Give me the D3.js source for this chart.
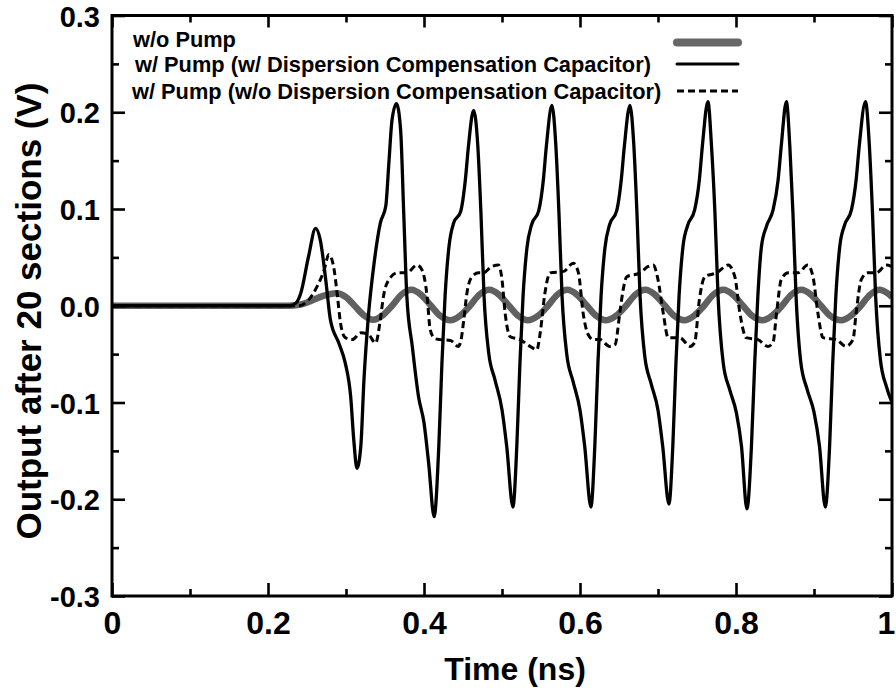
<!DOCTYPE html>
<html>
<head>
<meta charset="utf-8">
<script src="https://cdn.jsdelivr.net/npm/d3@7"></script>
<style>
  body { margin: 0; background: #fff; }
  svg text { font-family: "Liberation Sans", Arial, sans-serif; font-weight: bold; fill: #000; }
</style>
</head>
<body>
<svg id="chart" width="896" height="693"></svg>
<script>
// tick values / labels
const xMajor = [0, 0.2, 0.4, 0.6, 0.8, 1];
const xMinor = [0.1, 0.3, 0.5, 0.7, 0.9];
const xTickLabels = ["0", "0.2", "0.4", "0.6", "0.8", "1"];
const yMajor = [-0.3, -0.2, -0.1, 0, 0.1, 0.2, 0.3];
const yMinor = [-0.25, -0.15, -0.05, 0.05, 0.15, 0.25];
const yTickLabels = ["-0.3", "-0.2", "-0.1", "0.0", "0.1", "0.2", "0.3"];

const legendLabels = [
  "w/o Pump",
  "w/ Pump (w/ Dispersion Compensation Capacitor)",
  "w/ Pump (w/o Dispersion Compensation Capacitor)"
];

// w/o pump: [time ns, output V]
const noPump = [
  [0, 0], [0.1, 0], [0.2, 0], [0.225, 0], [0.24, 0.001], [0.255, 0.005], [0.27, 0.01],
  [0.287, 0.013], [0.3, 0.009], [0.311, 0], [0.323, -0.01], [0.335, -0.0145], [0.347, -0.01],
  [0.359, 0], [0.371, 0.0115], [0.384, 0.0165], [0.396, 0.0115], [0.409, 0], [0.421, -0.0105],
  [0.434, -0.015], [0.446, -0.0105], [0.459, 0], [0.471, 0.0115], [0.484, 0.0165], [0.496, 0.0115],
  [0.509, 0], [0.521, -0.0105], [0.533, -0.015], [0.546, -0.0105], [0.559, 0], [0.571, 0.0115],
  [0.584, 0.0165], [0.596, 0.0115], [0.609, 0], [0.621, -0.0105], [0.633, -0.015], [0.646, -0.0105],
  [0.659, 0], [0.671, 0.0115], [0.684, 0.0165], [0.696, 0.0115], [0.709, 0], [0.721, -0.0105],
  [0.734, -0.015], [0.746, -0.0105], [0.759, 0], [0.771, 0.0115], [0.784, 0.0165], [0.796, 0.0115],
  [0.809, 0], [0.821, -0.0105], [0.834, -0.015], [0.846, -0.0105], [0.859, 0], [0.871, 0.0115],
  [0.884, 0.0165], [0.896, 0.0115], [0.909, 0], [0.921, -0.0105], [0.935, -0.015], [0.947, -0.0105],
  [0.96, 0], [0.972, 0.0115], [0.984, 0.0165], [0.994, 0.013], [1.0, 0.009]
];

// w/ pump, w/ dispersion compensation capacitor
const pumpComp = [
  [0, 0], [0.1, 0], [0.2, 0], [0.228, 0], [0.236, 0.003], [0.242, 0.013], [0.252, 0.051],
  [0.261, 0.08], [0.267, 0.068], [0.274, 0.027], [0.28, -0.0145], [0.291, -0.039], [0.299, -0.059],
  [0.306, -0.094], [0.31, -0.139], [0.314, -0.168], [0.319, -0.145], [0.323, -0.077], [0.329, -0.008],
  [0.336, 0.044], [0.344, 0.0855], [0.351, 0.103], [0.355, 0.148], [0.359, 0.192], [0.3647, 0.209],
  [0.37, 0.182], [0.374, 0.096], [0.378, 0.0096], [0.385, -0.042], [0.393, -0.094], [0.4, -0.121],
  [0.406, -0.163], [0.413, -0.218],
  [0.419, -0.145], [0.423, -0.059], [0.427, 0.0096], [0.432, 0.061], [0.438, 0.0855], [0.447, 0.0975],
  [0.453, 0.13], [0.457, 0.165], [0.4636, 0.202], [0.469, 0.165], [0.473, 0.096], [0.477, 0.0096],
  [0.483, -0.049], [0.491, -0.0765], [0.5, -0.1075], [0.506, -0.145], [0.514, -0.208],
  [0.519, -0.145], [0.523, -0.059], [0.527, 0.01], [0.532, 0.06], [0.538, 0.084], [0.547, 0.098],
  [0.553, 0.13], [0.557, 0.166], [0.564, 0.207], [0.569, 0.166], [0.573, 0.096], [0.577, 0.01],
  [0.583, -0.05], [0.591, -0.078], [0.6, -0.108], [0.606, -0.145], [0.614, -0.208],
  [0.619, -0.145], [0.623, -0.059], [0.627, 0.01], [0.632, 0.06], [0.638, 0.084], [0.647, 0.098],
  [0.653, 0.131], [0.657, 0.166], [0.664, 0.207], [0.669, 0.166], [0.673, 0.096], [0.677, 0.01],
  [0.683, -0.052], [0.691, -0.08], [0.7, -0.108], [0.706, -0.145], [0.714, -0.205],
  [0.719, -0.145], [0.723, -0.059], [0.727, 0.01], [0.732, 0.061], [0.738, 0.083], [0.747, 0.099],
  [0.753, 0.13], [0.757, 0.166], [0.764, 0.211], [0.7686, 0.165], [0.773, 0.096], [0.777, 0.01],
  [0.7836, -0.059], [0.792, -0.087], [0.8006, -0.111], [0.807, -0.145], [0.814, -0.21],
  [0.8198, -0.145], [0.824, -0.059], [0.828, 0.01], [0.8326, 0.061], [0.839, 0.082], [0.8475, 0.099],
  [0.854, 0.13], [0.858, 0.165], [0.8646, 0.211], [0.869, 0.165], [0.873, 0.096], [0.877, 0.01],
  [0.883, -0.058], [0.891, -0.086], [0.9, -0.11], [0.907, -0.145], [0.9145, -0.208],
  [0.92, -0.145], [0.924, -0.059], [0.928, 0.01], [0.933, 0.061], [0.939, 0.083], [0.948, 0.099],
  [0.954, 0.13], [0.958, 0.165], [0.966, 0.211], [0.971, 0.165], [0.975, 0.096], [0.979, 0.01],
  [0.985, -0.055], [0.993, -0.084], [1.0, -0.1]
];

// w/ pump, w/o dispersion compensation capacitor
const pumpNoComp = [
  [0, 0], [0.1, 0], [0.2, 0], [0.24, 0], [0.252, 0.006], [0.263, 0.02], [0.272, 0.037],
  [0.278, 0.053], [0.284, 0.041], [0.289, 0.01], [0.293, -0.018], [0.299, -0.033], [0.308, -0.035],
  [0.319, -0.028], [0.329, -0.03], [0.338, -0.0386], [0.344, -0.0145], [0.348, 0.0096], [0.355, 0.027],
  [0.366, 0.034], [0.378, 0.034], [0.391, 0.042], [0.3975, 0.037], [0.404, 0.0096], [0.408, -0.025],
  [0.414, -0.034], [0.421, -0.035], [0.434, -0.036], [0.444, -0.042], [0.448, -0.033], [0.451, -0.0145],
  [0.455, 0.013], [0.4615, 0.03], [0.47, 0.034], [0.476, 0.034], [0.487, 0.0406], [0.4956, 0.042],
  [0.5, 0.027], [0.504, -0.0076], [0.5106, -0.032], [0.523, -0.035], [0.536, -0.042], [0.5447, -0.0455],
  [0.549, -0.028], [0.555, 0.013], [0.5617, 0.034], [0.579, 0.0355], [0.5915, 0.044], [0.598, 0.034],
  [0.604, -0.0076], [0.6106, -0.03], [0.617, -0.035], [0.6256, -0.035], [0.638, -0.042], [0.645, -0.04],
  [0.651, -0.0076], [0.655, 0.015], [0.66, 0.03], [0.677, 0.034], [0.6875, 0.0406], [0.694, 0.042],
  [0.7, 0.027], [0.7067, -0.0076], [0.713, -0.033], [0.728, -0.033], [0.741, -0.042], [0.747, -0.038],
  [0.753, 0.006], [0.76, 0.03], [0.775, 0.034], [0.79, 0.042], [0.7985, 0.03], [0.805, -0.0076],
  [0.813, -0.033], [0.828, -0.035], [0.841, -0.042], [0.8475, -0.038], [0.852, -0.0076], [0.858, 0.027],
  [0.867, 0.034], [0.8796, 0.034], [0.892, 0.042], [0.8987, 0.03], [0.905, -0.0076], [0.9115, -0.033],
  [0.9286, -0.035], [0.941, -0.042], [0.95, -0.035], [0.954, -0.0076], [0.9606, 0.027], [0.969, 0.034],
  [0.98, 0.034], [0.9926, 0.042], [1.0, 0.0406]
];

const svg = d3.select('#chart');

const plot = { left: 112, right: 892, top: 15.5, bottom: 596 };

const x = d3.scaleLinear().domain([0, 1]).range([plot.left, plot.right]);
const y = d3.scaleLinear().domain([-0.3, 0.3]).range([plot.bottom, plot.top]);

svg.append('clipPath')
  .attr('id', 'plot-clip')
  .append('rect')
  .attr('x', plot.left)
  .attr('y', plot.top)
  .attr('width', plot.right - plot.left)
  .attr('height', plot.bottom - plot.top);

// curves
const line = d3.line()
  .x(d => x(d[0]))
  .y(d => y(d[1]))
  .curve(d3.curveMonotoneX);

const curves = svg.append('g').attr('clip-path', 'url(#plot-clip)');

curves.append('path')
  .datum(noPump)
  .attr('fill', 'none')
  .attr('stroke', '#606060')
  .attr('stroke-width', 6.5)
  .attr('d', line);

curves.append('path')
  .datum(pumpComp)
  .attr('fill', 'none')
  .attr('stroke', '#000')
  .attr('stroke-width', 3.3)
  .attr('stroke-linejoin', 'round')
  .attr('d', line);

curves.append('path')
  .datum(pumpNoComp)
  .attr('fill', 'none')
  .attr('stroke', '#000')
  .attr('stroke-width', 3)
  .attr('stroke-dasharray', '7,4')
  .attr('d', line);

// axes (ticks point inward)
const styleAxis = g => {
  g.select('.domain').remove();
  g.selectAll('.tick line').attr('stroke', '#000').attr('stroke-width', 2.6);
};

svg.append('g')
  .attr('transform', `translate(0,${plot.bottom})`)
  .call(d3.axisBottom(x).tickValues(xMajor).tickSize(-13).tickPadding(15)
    .tickFormat((d, i) => xTickLabels[i]))
  .call(styleAxis)
  .call(g => g.selectAll('text').style('font-size', '32px'))
  .call(g => g.selectAll('.tick:last-of-type text').attr('dx', -6));

svg.append('g')
  .attr('transform', `translate(0,${plot.bottom})`)
  .call(d3.axisBottom(x).tickValues(xMinor).tickSize(-7).tickFormat(''))
  .call(styleAxis);

svg.append('g')
  .attr('transform', `translate(0,${plot.top})`)
  .call(d3.axisTop(x).tickValues(xMajor).tickSize(-12).tickFormat(''))
  .call(styleAxis);

svg.append('g')
  .attr('transform', `translate(0,${plot.top})`)
  .call(d3.axisTop(x).tickValues(xMinor).tickSize(-7).tickFormat(''))
  .call(styleAxis);

svg.append('g')
  .attr('transform', `translate(${plot.left},0)`)
  .call(d3.axisLeft(y).tickValues(yMajor).tickSize(-13).tickPadding(12)
    .tickFormat((d, i) => yTickLabels[i]))
  .call(styleAxis)
  .call(g => g.selectAll('text').style('font-size', '29px').attr('dy', '0.37em'));

svg.append('g')
  .attr('transform', `translate(${plot.left},0)`)
  .call(d3.axisLeft(y).tickValues(yMinor).tickSize(-7).tickFormat(''))
  .call(styleAxis);

svg.append('g')
  .attr('transform', `translate(${plot.right},0)`)
  .call(d3.axisRight(y).tickValues(yMajor).tickSize(-13).tickFormat(''))
  .call(styleAxis);

svg.append('g')
  .attr('transform', `translate(${plot.right},0)`)
  .call(d3.axisRight(y).tickValues(yMinor).tickSize(-7).tickFormat(''))
  .call(styleAxis);

// frame
svg.append('rect')
  .attr('x', plot.left)
  .attr('y', plot.top)
  .attr('width', plot.right - plot.left)
  .attr('height', plot.bottom - plot.top)
  .attr('fill', 'none')
  .attr('stroke', '#000')
  .attr('stroke-width', 3);

// axis titles
svg.append('text')
  .attr('x', 515)
  .attr('y', 680)
  .attr('text-anchor', 'middle')
  .style('font-size', '32px')
  .text('Time (ns)');

svg.append('text')
  .attr('transform', 'translate(41,311) rotate(-90)')
  .attr('text-anchor', 'middle')
  .style('font-size', '35px')
  .text('Output after 20 sections (V)');

// legend
const legendRows = [
  { textX: 133, textY: 47, lineY: 42.5, stroke: '#676767', width: 8, dash: null, cap: 'round' },
  { textX: 135, textY: 72, lineY: 64, stroke: '#000', width: 3, dash: null, cap: 'round' },
  { textX: 132, textY: 99, lineY: 91, stroke: '#000', width: 3, dash: '7,4', cap: 'butt' }
];

const legend = svg.append('g').attr('class', 'legend');

legend.selectAll('text')
  .data(legendRows)
  .enter()
  .append('text')
  .attr('x', d => d.textX)
  .attr('y', d => d.textY)
  .style('font-size', '21.8px')
  .text((d, i) => legendLabels[i]);

legend.selectAll('line')
  .data(legendRows)
  .enter()
  .append('line')
  .attr('x1', 677)
  .attr('x2', 738)
  .attr('y1', d => d.lineY)
  .attr('y2', d => d.lineY)
  .attr('stroke', d => d.stroke)
  .attr('stroke-width', d => d.width)
  .attr('stroke-linecap', d => d.cap)
  .attr('stroke-dasharray', d => d.dash);
</script>
</body>
</html>
